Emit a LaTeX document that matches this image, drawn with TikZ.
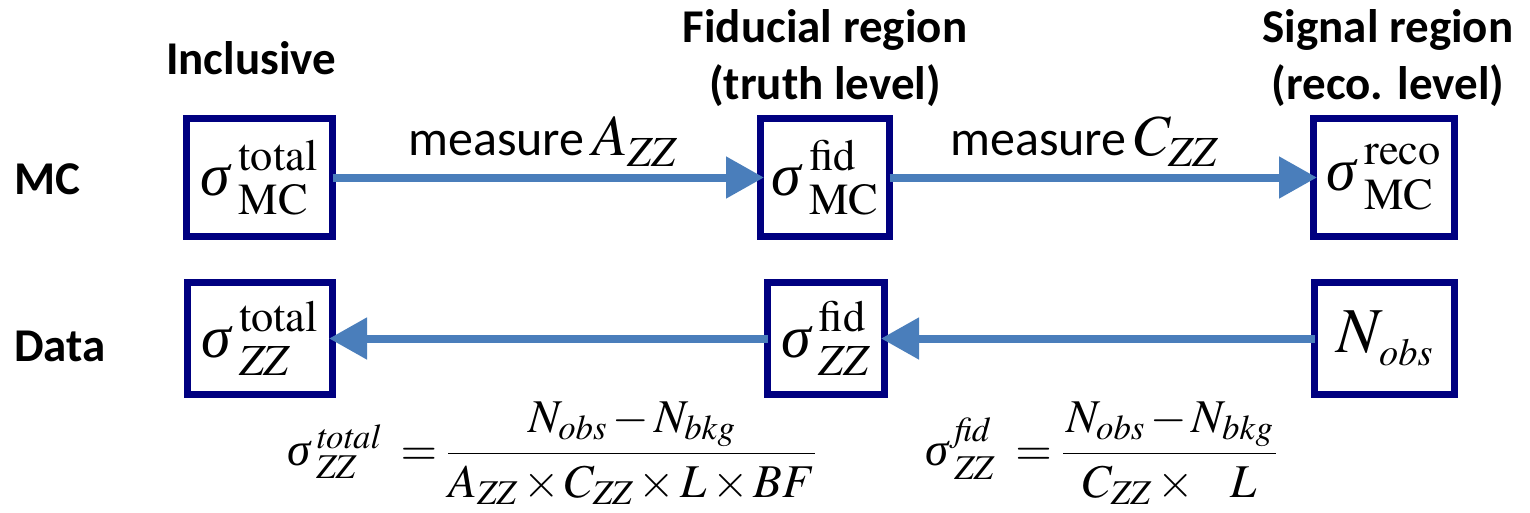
\documentclass[tikz,border=0pt]{standalone}
\usepackage{mathptmx}
\usepackage[no-math]{fontspec}
\newfontfamily\calibri{Carlito}
\newfontfamily\tnr{Liberation Serif}
\newcommand\sig{\mathord{\hbox{\tnr\itshape σ}}}
\newcommand\tightops{\medmuskip=2mu\relax}
\usetikzlibrary{arrows.meta}
\definecolor{boxblue}{RGB}{0,0,128}
\definecolor{arrblue}{RGB}{74,126,187}
\begin{document}
\begin{tikzpicture}[x=1pt,y=-1pt,
  qbox/.style={draw=boxblue, line width=7pt, fill=white, inner sep=0pt, outer sep=0pt,
    font=\fontsize{60}{72}\selectfont},
  title/.style={font=\calibri\bfseries\fontsize{47}{57}\selectfont, align=center, inner sep=0pt},
  lbl/.style={font=\calibri\fontsize{50}{58}\selectfont, inner sep=0pt},
  flow/.style={draw=arrblue, line width=8pt, shorten >=-3.5pt,
    -{Triangle[length=38pt,width=40pt]}, arrblue},
  formula/.style={inner sep=0pt, font=\fontsize{47}{57}\selectfont}
]
\useasboundingbox (0,0) rectangle (1530,512);

% column titles
\node[title] (inc) at (251,58) {Inclusive};
\node[title] (fidt) at (825,58) {Fiducial region\\(truth level)};
\node[title] (sigt) at (1388,58) {Signal region\\(reco. level)};

% row titles
\node[title] (mc) at (47,179) {MC};
\node[title] (data) at (60,346) {Data};

% MC row
\node[qbox, minimum width=146pt, minimum height=118pt] (mc1) at (259.5,177.5)
  {$\sig\kern8pt{}^{\raisebox{4pt}{$\scriptstyle\mathrm{total}$}}_{\raisebox{-4pt}{$\scriptstyle\mathrm{MC}$}}$};
\node[qbox, minimum width=129pt, minimum height=118pt] (mc2) at (825,177.5)
  {$\sig\kern8pt{}^{\raisebox{4pt}{$\scriptstyle\mathrm{fid}$}}_{\raisebox{-4pt}{$\scriptstyle\mathrm{MC}$}}$};
\node[qbox, minimum width=141pt, minimum height=118pt] (mc3) at (1384,177.5)
  {$\sig\kern8pt{}^{\raisebox{4pt}{$\scriptstyle\mathrm{reco}$}}_{\raisebox{-4pt}{$\scriptstyle\mathrm{MC}$}}$};

% Data row
\node[qbox, minimum width=145pt, minimum height=112pt] (d1) at (260,338.5)
  {$\sig\kern8pt{}^{\raisebox{4pt}{$\scriptstyle\mathrm{total}$}}_{\raisebox{-4pt}{$\scriptstyle\mathit{ZZ}$}}$};
\node[qbox, minimum width=117pt, minimum height=112pt] (d2) at (826,338.5)
  {$\sig\kern8pt{}^{\raisebox{4pt}{$\scriptstyle\mathrm{fid}$}}_{\raisebox{-4pt}{$\scriptstyle\mathit{ZZ}$}}$};
\node[qbox, minimum width=140pt, minimum height=112pt, font=\fontsize{64}{76}\selectfont] (d3) at (1384.5,338.5)
  {$N_{\kern2pt\raisebox{-4pt}{$\scriptscriptstyle obs$}}$};

% arrows
\draw[flow] (mc1.east) -- (mc2.west);
\draw[flow] (mc2.east) -- (mc3.west);
\draw[flow] (d3.west) -- (d2.east);
\draw[flow] (d2.west) -- (d1.east);

% arrow labels
\node[lbl, anchor=base west] (la) at (408,155)
  {measure\hspace{8pt}{\fontsize{58}{70}\selectfont$A_{\raisebox{-3pt}{$\scriptstyle\mathit{ZZ}$}}$}};
\node[lbl, anchor=base west] (lc) at (950,155)
  {measure\hspace{8pt}{\fontsize{58}{70}\selectfont$C_{\raisebox{-3pt}{$\scriptstyle\mathit{ZZ}$}}$}};

% formulas
\node[formula, anchor=west] (f1) at (287,453)
  {$\tightops\sig\kern6pt{}^{\mathit{total}}_{\mathit{ZZ}}\kern20pt{=}\kern10pt{\displaystyle\frac{N_{obs}-N_{bkg}}{A_{\mathit{ZZ}}\times C_{\mathit{ZZ}}\times L\times BF}}$};
\node[formula, anchor=west] (f2) at (925,453)
  {$\tightops\sig\kern6pt{}^{\mathit{fid}}_{\mathit{ZZ}}\kern20pt{=}\kern10pt{\displaystyle\frac{\kern3pt N_{obs}-N_{bkg}\kern3pt}{C_{\mathit{ZZ}}\times\;\;\; L}}$};
\end{tikzpicture}
\end{document}
